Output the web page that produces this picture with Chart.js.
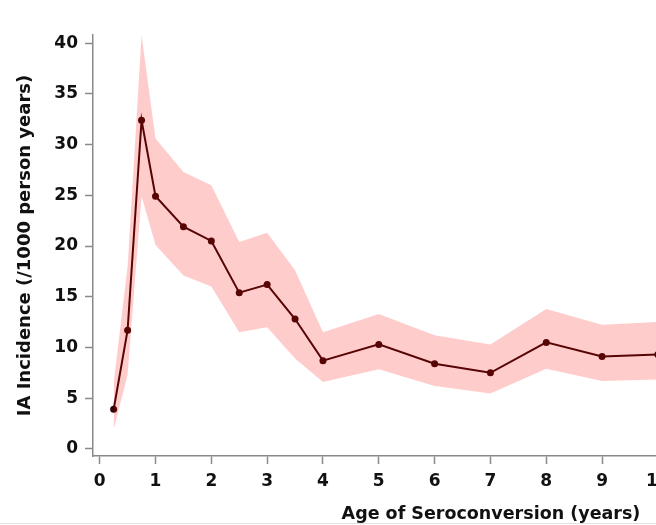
<!DOCTYPE html>
<html>
<head>
<meta charset="utf-8">
<script src="https://cdn.jsdelivr.net/npm/chart.js@4/dist/chart.umd.min.js"></script>
<style>
  html, body { margin: 0; padding: 0; background: #fff; overflow: hidden; }
  #wrap { position: relative; width: 656px; height: 525px; overflow: hidden; }
  #edge { position: absolute; left: 0; top: 523px; width: 656px; height: 1px; background: #e2e2e2; }
</style>
</head>
<body>
<div id="wrap">
  <canvas id="chart" width="900" height="525"></canvas>
  <div id="edge"></div>
</div>
<script>
// Age at seroconversion (years) and IA incidence (/1000 person years)
const ages = [0.25, 0.5, 0.75, 1, 1.5, 2, 2.5, 3, 3.5, 4, 5, 6, 7, 8, 9, 10];
const incidence = [3.9, 11.7, 32.4, 24.9, 21.9, 20.5, 15.4, 16.2, 12.8, 8.7, 10.3, 8.4, 7.5, 10.5, 9.1, 9.3];
const upperCI = [6.5, 18.0, 40.8, 30.6, 27.3, 26.0, 20.4, 21.3, 17.6, 11.5, 13.3, 11.2, 10.3, 13.8, 12.25, 12.5];
const lowerCI = [1.9, 7.3, 24.9, 20.1, 17.1, 16.0, 11.5, 12.0, 8.9, 6.6, 7.85, 6.2, 5.45, 7.9, 6.7, 6.85];

// tick labels
const xTicks = [0, 1, 2, 3, 4, 5, 6, 7, 8, 9, 10, 11, 12, 13, 14];
const yTicks = [0, 5, 10, 15, 20, 25, 30, 35, 40];

const toPoints = (ys) => ages.map((a, i) => ({ x: a, y: ys[i] }));

Chart.defaults.font.family = "'DejaVu Sans', sans-serif";
Chart.defaults.font.weight = 'bold';
Chart.defaults.font.size = 17;
Chart.defaults.color = '#111';

const axisGrey = '#8a8a8a';

const ctx = document.getElementById('chart').getContext('2d');
new Chart(ctx, {
    type: 'line',
    data: {
        datasets: [
            {
                label: 'upper',
                data: toPoints(upperCI),
                borderWidth: 0,
                pointRadius: 0,
                backgroundColor: 'rgba(255, 0, 0, 0.2)',
                fill: '+1',
                tension: 0
            },
            {
                label: 'lower',
                data: toPoints(lowerCI),
                borderWidth: 0,
                pointRadius: 0,
                fill: false,
                tension: 0
            },
            {
                label: 'IA incidence',
                data: toPoints(incidence),
                borderColor: '#2d0505',
                backgroundColor: '#2d0505',
                borderWidth: 2,
                pointRadius: 3.5,
                pointBorderWidth: 0,
                fill: false,
                tension: 0
            }
        ]
    },
    options: {
        responsive: false,
        animation: false,
        devicePixelRatio: 1,
        layout: { padding: { top: 35, right: 3, bottom: 0, left: 0 } },
        plugins: {
            legend: { display: false },
            tooltip: { enabled: false }
        },
        scales: {
            x: {
                type: 'linear',
                min: -0.12,
                max: 14.14,
                afterBuildTicks: (scale) => { scale.ticks = xTicks.map(v => ({ value: v })); },
                afterFit: (scale) => { scale.height = 69; },
                ticks: { padding: 7, maxRotation: 0, autoSkip: false, color: '#111' },
                grid: { drawOnChartArea: false, color: axisGrey, tickLength: 8, tickWidth: 1.5 },
                border: { color: axisGrey, width: 1.5 },
                title: {
                    display: true,
                    text: 'Age of Seroconversion (years)',
                    font: { size: 17.5, weight: 'bold' },
                    color: '#111',
                    padding: { top: 0, bottom: 0 }
                }
            },
            y: {
                type: 'linear',
                min: -0.7,
                max: 40.8,
                afterBuildTicks: (scale) => { scale.ticks = yTicks.map(v => ({ value: v })); },
                afterFit: (scale) => { scale.width = 93; },
                ticks: { padding: 7, color: '#111' },
                grid: { drawOnChartArea: false, color: axisGrey, tickLength: 8, tickWidth: 1.5 },
                border: { color: axisGrey, width: 1.5 },
                title: {
                    display: true,
                    text: 'IA Incidence (/1000 person years)',
                    font: { size: 18, weight: 'bold' },
                    color: '#111',
                    padding: { top: 15, bottom: 0 }
                }
            }
        }
    }
});
</script>
</body>
</html>
